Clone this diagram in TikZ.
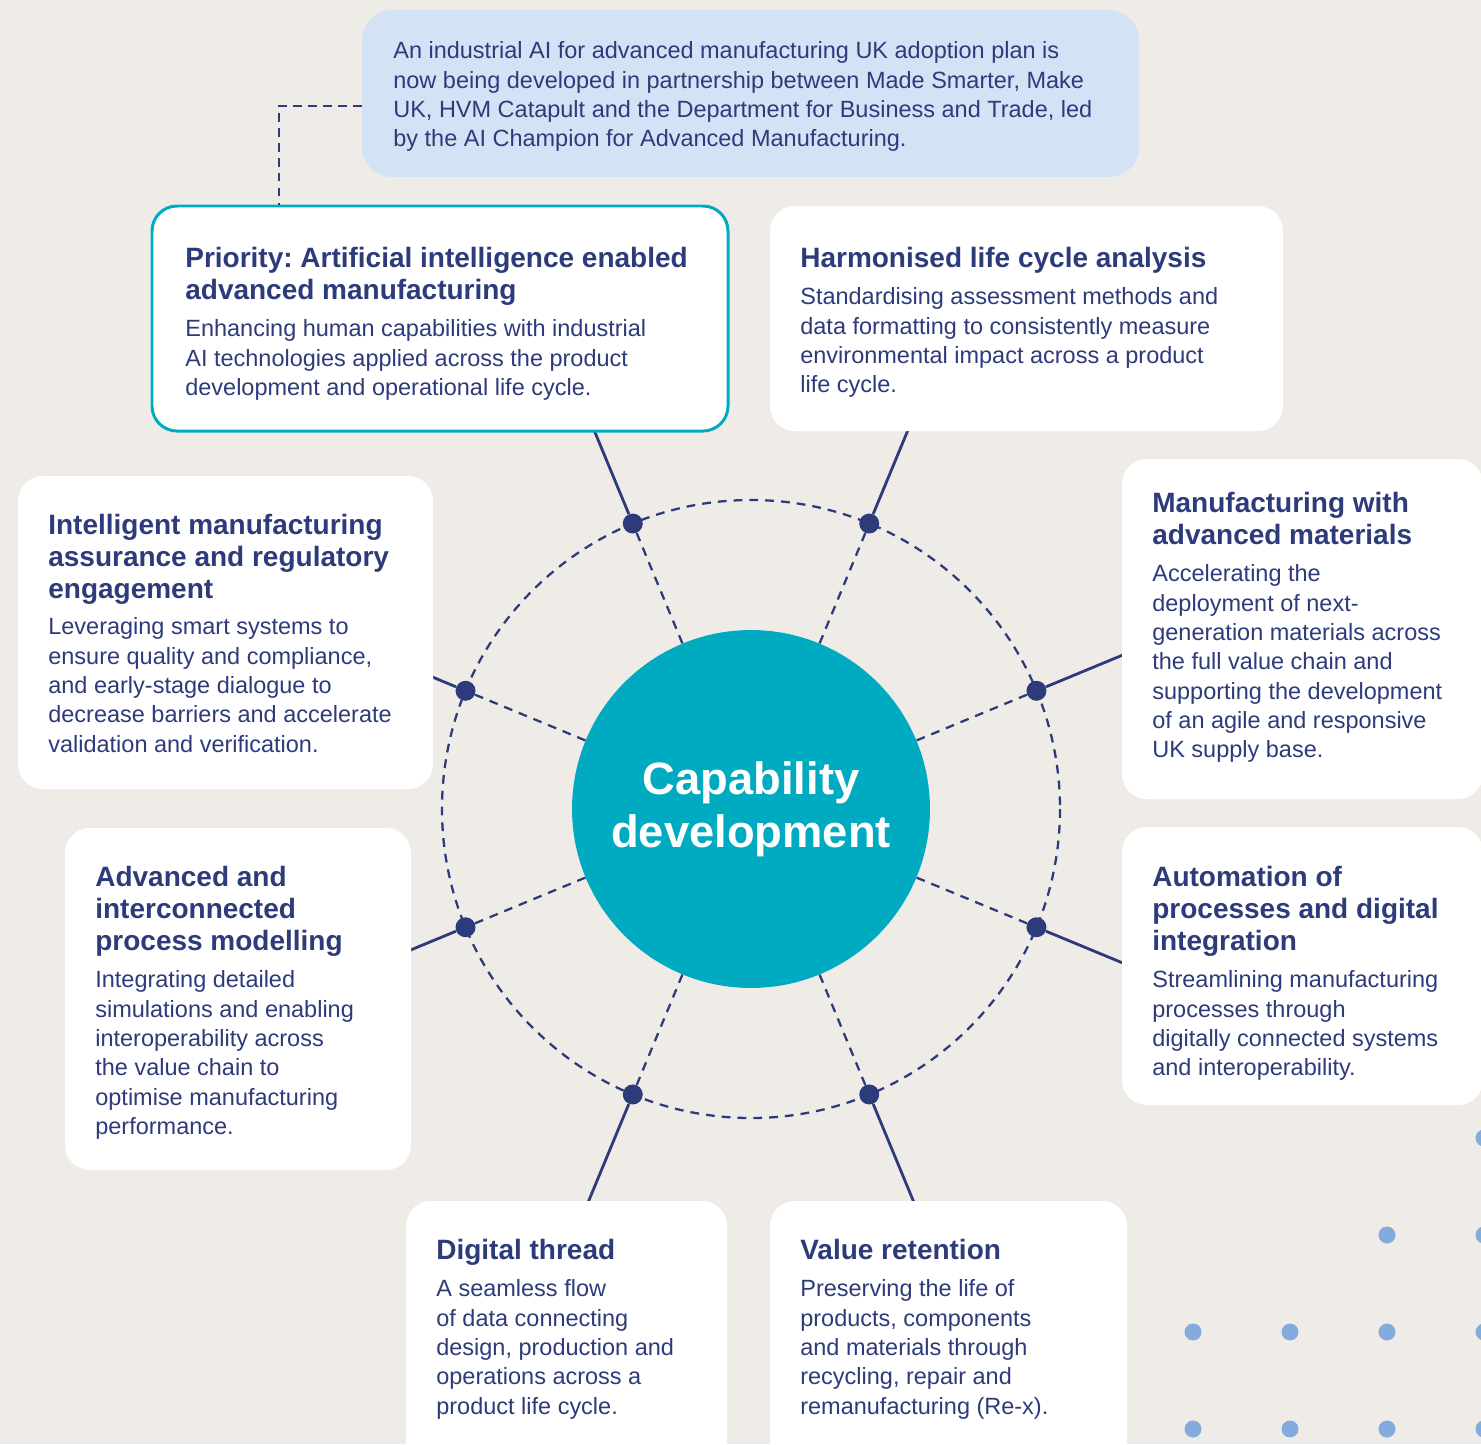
\documentclass[tikz,border=0pt]{standalone}
\usepackage{fontspec}
\setmainfont{Liberation Sans}
\usetikzlibrary{fit}
\definecolor{navy}{HTML}{2D3B7B}
\definecolor{teal}{HTML}{00ABC2}
\definecolor{paper}{HTML}{EFECE7}
\definecolor{sky}{HTML}{D3E2F4}
\definecolor{speck}{HTML}{84ABDD}
\frenchspacing
\tikzset{
	card/.style={fill=white,rounded corners=0.5cm,inner sep=0},
	ttl/.style={anchor=north west,inner sep=0,align=left,text=navy,
		font=\fontsize{15.93}{18.21}\selectfont\bfseries},
	txt/.style={anchor=north west,inner sep=0,align=left,text=navy,
		font=\fontsize{13.37}{16.67}\selectfont},
	hub/.style={circle,fill=navy,minimum size=0.4cm,inner sep=0},
	ray/.style={draw=navy,line width=1.6pt},
	rim/.style={draw=navy,line width=1.3pt,dash pattern=on 5pt off 4pt},
}
\begin{document}
\begin{tikzpicture}[x=0.02cm,y=-0.02cm]
	\useasboundingbox (0,0) rectangle (1481,1444);
	\fill[paper] (0,0) rectangle (1481,1444);
	% dotted corner
	\foreach \x in {1193,1290,1387,1484}{
		\fill[speck] (\x,1332) circle (8.5);
		\fill[speck] (\x,1429) circle (8.5);
		}
	\foreach \x in {1387,1484}{\fill[speck] (\x,1235) circle (8.5);}
	\fill[speck] (1484,1138) circle (8.5);
	% wheel
	\begin{scope}[shift={(751,809)}]
		\draw[rim] (0,0) circle (309);
		\node[circle,fill=teal,minimum size=7.16cm,inner sep=0,align=center,text=white,
			font=\fontsize{25.8}{30.16}\selectfont\bfseries] (core) at (0,0) {Capability\\development};
		\foreach \a [count=\i] in {22.5,67.5,...,337.5}{
			\node[hub] (d\i) at (\a:309) {};
			\coordinate (e\i) at (\a:480);
			\draw[ray] (d\i) -- (e\i);
			\draw[rim] (core) -- (d\i);
			}
	\end{scope}
	% cards
	\node[card,fill=sky,rounded corners=0.6cm,fit={(362,10) (1139,177)}] (info) {};
	\node[card,draw=teal,line width=1.7pt,fit={(152,206) (728,431)}] (prio) {};
	\node[card,fit={(770,206) (1283,431)}] (lca) {};
	\node[card,fit={(1122,459) (1483,799)}] (mat) {};
	\node[card,fit={(1122,827) (1483,1105)}] (auto) {};
	\node[card,fit={(770,1201) (1127,1480)}] (value) {};
	\node[card,fit={(406,1201) (727,1480)}] (thread) {};
	\node[card,fit={(65,828) (411,1170)}] (model) {};
	\node[card,fit={(18,476) (433,789)}] (assur) {};
	\coordinate (bend) at (279,106);
	\draw[navy,line width=1.1pt,dash pattern=on 5pt off 3.5pt] (info.west |- bend) -- (bend) -- (prio.north -| bend);
	% texts
	\node[txt] (info-b) at (393,41.5) {An industrial AI for advanced manufacturing UK adoption plan is\\now being developed in partnership between Made Smarter, Make\\UK, HVM Catapult and the Department for Business and Trade, led\\by the AI Champion for Advanced Manufacturing.};
	\node[ttl] (prio-t) at (185,247) {Priority: Artificial intelligence enabled\\advanced manufacturing};
	\node[txt] (prio-b) at (185,319.5) {Enhancing human capabilities with industrial\\AI technologies applied across the product\\development and operational life cycle.};
	\node[ttl] (lca-t) at (800,247) {Harmonised life cycle analysis};
	\node[txt] (lca-b) at (800,287.5) {Standardising assessment methods and\\data formatting to consistently measure\\environmental impact across a product\\life cycle.};
	\node[ttl] (mat-t) at (1152,492) {Manufacturing with\\advanced materials};
	\node[txt] (mat-b) at (1152,564.5) {Accelerating the\\deployment of next-\\generation materials across\\the full value chain and\\supporting the development\\of an agile and responsive\\UK supply base.};
	\node[ttl] (auto-t) at (1152,866) {Automation of\\processes and digital\\integration};
	\node[txt] (auto-b) at (1152,970.5) {Streamlining manufacturing\\processes through\\digitally connected systems\\and interoperability.};
	\node[ttl] (value-t) at (800,1239) {Value retention};
	\node[txt] (value-b) at (800,1279.5) {Preserving the life of\\products, components\\and materials through\\recycling, repair and\\remanufacturing (Re-x).};
	\node[ttl] (thread-t) at (436,1239) {Digital thread};
	\node[txt] (thread-b) at (436,1279.5) {A seamless flow\\of data connecting\\design, production and\\operations across a\\product life cycle.};
	\node[ttl] (model-t) at (95,866) {Advanced and\\interconnected\\process modelling};
	\node[txt] (model-b) at (95,970.5) {Integrating detailed\\simulations and enabling\\interoperability across\\the value chain to\\optimise manufacturing\\performance.};
	\node[ttl] (assur-t) at (48,514) {Intelligent manufacturing\\assurance and regulatory\\engagement};
	\node[txt] (assur-b) at (48,617.5) {Leveraging smart systems to\\ensure quality and compliance,\\and early-stage dialogue to\\decrease barriers and accelerate\\validation and verification.};
\end{tikzpicture}
\end{document}
